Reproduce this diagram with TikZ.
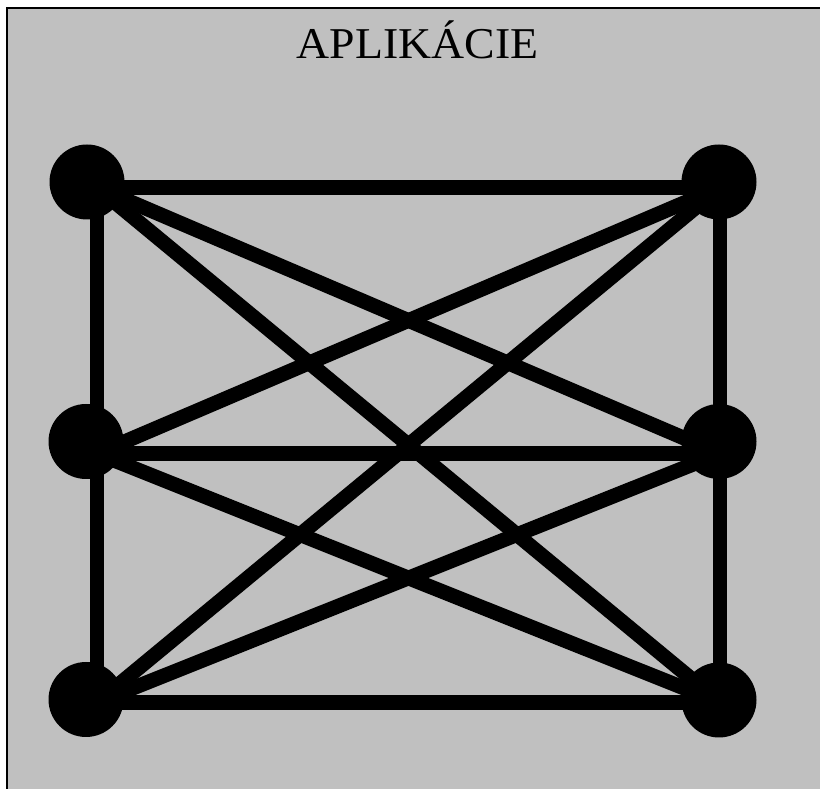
\documentclass[tikz,border=0pt]{standalone}
\usepackage{fontspec}
\setmainfont{Liberation Serif}
\definecolor{appInk}{HTML}{000000}
\definecolor{appGray}{HTML}{C0C0C0}
\tikzset{
  every picture/.style={text=appInk},
  app frame/.style={draw=appInk, line width=2pt},
  app dot/.style={circle, fill=appInk, inner sep=0pt, minimum size=75pt},
  app link/.style={draw=appInk, line width=14.7pt, line cap=butt},
  app title/.style={anchor=base, inner sep=0pt, font=\fontsize{44}{52}\selectfont}
}
\begin{document}
\begin{tikzpicture}[x=1pt,y=1pt]
  \useasboundingbox (0,0) rectangle (820,789);
  \fill[appGray] (7,0) rectangle (820,780.7);
  \draw[app frame] (820,780.7) -- (7,780.7) -- (7,0);
  \node[app title] (title) at (417.5,730) {\scalebox{1.04}[1]{APLIKÁCIE}};
  % line ends
  \coordinate (c1) at (97,601.5);
  \coordinate (c2) at (720,601.5);
  \coordinate (c3) at (97,335.5);
  \coordinate (c4) at (720,335.5);
  \coordinate (c5) at (97,86.5);
  \coordinate (c6) at (720,86.5);
  \foreach \a/\b in {c1/c2,c3/c4,c5/c6,c1/c3,c3/c5,c2/c4,c4/c6,
                     c1/c4,c1/c6,c2/c3,c2/c5,c3/c6,c4/c5}
    \draw[app link] (\a) -- (\b);
  % stations
  \node[app dot] (n1) at (87,607) {};
  \node[app dot] (n2) at (719,607) {};
  \node[app dot] (n3) at (86,347.5) {};
  \node[app dot] (n4) at (719,347.5) {};
  \node[app dot] (n5) at (86,89.5) {};
  \node[app dot] (n6) at (719,89) {};
\end{tikzpicture}
\end{document}
